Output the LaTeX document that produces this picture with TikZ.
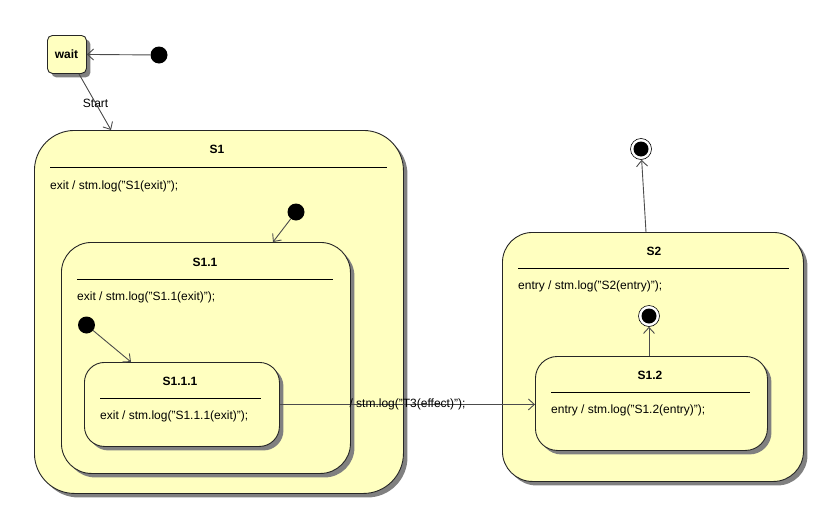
\documentclass[tikz,border=0pt]{standalone}
\usepackage{fontspec}
\setmainfont{Liberation Sans}
\usetikzlibrary{shadows,arrows.meta,calc}
\definecolor{stfill}{HTML}{FFFFC0}
\definecolor{stshadow}{HTML}{808080}

\begin{document}
\begin{tikzpicture}[x=1pt,y=-1pt,
  every node/.style={font=\fontsize{12}{14}\selectfont},
  state/.style={draw=black!85, fill=stfill, line width=0.9pt, rectangle,
    inner sep=0pt, anchor=north west,
    drop shadow={shadow xshift=4pt, shadow yshift=-4pt, fill=stshadow, opacity=1}},
  stitle/.style={font=\bfseries\fontsize{12}{14}\selectfont, inner sep=0pt},
  sbody/.style={anchor=west, inner sep=0pt},
  sep/.style={draw=black, line width=0.9pt},
  initst/.style={circle, fill=black, minimum size=17pt, inner sep=0pt},
  finalst/.style={circle, draw=black, fill=white, line width=0.6pt, minimum size=21pt, inner sep=0pt,
    path picture={\fill[black] (path picture bounding box.center) circle (7.5pt);}},
  trans/.style={draw=black!70, line width=0.9pt, -{Straight Barb[length=6pt,width=11pt]}},
  tlabel/.style={inner sep=1pt}
]
\useasboundingbox (0,0) rectangle (820,509);

% simple state
\node[state, rounded corners=5pt, minimum width=39pt, minimum height=38pt] (wait) at (47,35) {};
\node[stitle] (waitt) at (66.5,54) {wait};
\node[initst] (init0) at (159,55) {};

% composite state S1
\node[state, rounded corners=40pt, minimum width=369pt, minimum height=363pt] (S1) at (34,130) {};
\node[stitle] (S1t) at (217,149) {S1};
\draw[sep] (50,167) -- (387,167);
\node[sbody] (S1b) at (50,186) {exit / stm.log("S1(exit)");};
\node[initst] (init1) at (296,212) {};

% composite state S1.1
\node[state, rounded corners=30pt, minimum width=289pt, minimum height=231pt] (S11) at (61,242) {};
\node[stitle] (S11t) at (205,262) {S1.1};
\draw[sep] (77,279) -- (333,279);
\node[sbody] (S11b) at (77,297) {exit / stm.log("S1.1(exit)");};
\node[initst] (init2) at (86.5,325) {};

% leaf state S1.1.1
\node[state, rounded corners=20pt, minimum width=195pt, minimum height=84pt] (S111) at (84,362) {};
\node[stitle] (S111t) at (180,381) {S1.1.1};
\draw[sep] (100,398) -- (261,398);
\node[sbody] (S111b) at (100,416) {exit / stm.log("S1.1.1(exit)");};

% composite state S2
\node[state, rounded corners=30pt, minimum width=301pt, minimum height=249pt] (S2) at (502,232) {};
\node[stitle] (S2t) at (654,251) {S2};
\draw[sep] (518,268) -- (789,268);
\node[sbody] (S2b) at (518,286) {entry / stm.log("S2(entry)");};
\node[finalst] (fin2) at (649,316) {};

% leaf state S1.2
\node[state, rounded corners=22pt, minimum width=232pt, minimum height=94pt] (S12) at (535,356) {};
\node[stitle] (S12t) at (650,375) {S1.2};
\draw[sep] (551,392) -- (750,392);
\node[sbody] (S12b) at (551,410) {entry / stm.log("S1.2(entry)");};

% top-level final state
\node[finalst] (fin1) at (641,149) {};

% transitions
\draw[trans] (init0) -- (wait.east);
\draw[trans] ([xshift=12pt]wait.south) -- node[tlabel, pos=0.52] (startl) {Start} ([xshift=77pt]S1.north west);
\draw[trans] (init1) -- ([xshift=212pt]S11.north west);
\draw[trans] (init2) -- ([xshift=47pt]S111.north west);
\draw[trans] (S111.east) -- node[tlabel, pos=0.5] (t3l) {/ stm.log("T3(effect)");} (S111.east -| S12.west);
\draw[trans] ([xshift=144pt]S2.north west) -- (fin1);
\draw[trans] (fin2 |- S12.north) -- (fin2);
\end{tikzpicture}
\end{document}
